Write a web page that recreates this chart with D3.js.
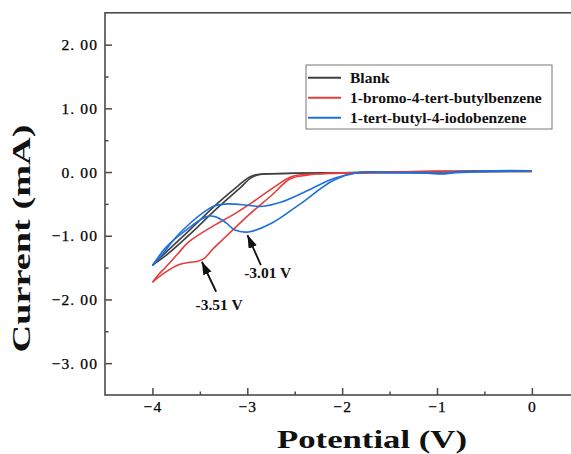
<!DOCTYPE html>
<html>
<head>
<meta charset="utf-8">
<script src="https://cdn.jsdelivr.net/npm/d3@7"></script>
<style>
  body { margin: 0; background: #fff; }
  svg { display: block; font-family: "Liberation Serif", "Times New Roman", serif; }
</style>
</head>
<body>
<svg id="chart" width="571" height="454"></svg>
<script>
// ticks
const potentialTicks = [-4, -3, -2, -1, 0];
const potentialMinor = [-3.5, -2.5, -1.5, -0.5];
const currentTicks = [2, 1, 0, -1, -2, -3];
const currentMinor = [1.5, 0.5, -0.5, -1.5, -2.5];

// CV curves, [potential V, current mA]
const blankForward = [[0, 0.02], [-0.5, 0.02], [-1, 0.01], [-1.5, 0.0], [-2, -0.01], [-2.5, -0.02], [-2.8, -0.03], [-2.9, -0.05], [-2.97, -0.1], [-3.07, -0.24], [-3.32, -0.57], [-3.6, -0.97], [-3.85, -1.3], [-4, -1.46]];
const blankReverse = [[-4, -1.46], [-3.85, -1.25], [-3.6, -0.9], [-3.32, -0.5], [-3.1, -0.22], [-3.0, -0.1], [-2.93, -0.05], [-2.85, -0.03], [-2.5, -0.02], [-2, -0.01], [-1, 0.0], [0, 0.01]];

const bromoForward = [[0, 0.02], [-0.5, 0.02], [-1, 0.01], [-1.5, 0.0], [-1.9, -0.01], [-2.16, -0.02], [-2.37, -0.05], [-2.55, -0.11], [-2.74, -0.36], [-2.99, -0.68], [-3.23, -1.02], [-3.37, -1.22], [-3.45, -1.35], [-3.52, -1.4], [-3.62, -1.42], [-3.73, -1.46], [-3.87, -1.58], [-4, -1.73]];
const bromoReverse = [[-4, -1.73], [-3.93, -1.6], [-3.87, -1.51], [-3.73, -1.28], [-3.62, -1.1], [-3.34, -0.83], [-3.16, -0.68], [-2.99, -0.52], [-2.74, -0.26], [-2.53, -0.07], [-2.3, -0.03], [-2, -0.02], [-1.5, -0.01], [-1, 0.0], [-0.5, 0.01], [0, 0.01]];

const iodoForward = [[0, 0.02], [-0.4, 0.01], [-0.8, -0.01], [-0.95, -0.03], [-1.1, -0.02], [-1.4, -0.01], [-1.84, -0.01], [-2.09, -0.13], [-2.46, -0.52], [-2.74, -0.8], [-2.99, -0.94], [-3.13, -0.91], [-3.23, -0.79], [-3.34, -0.7], [-3.43, -0.7], [-3.6, -0.86], [-3.85, -1.17], [-4, -1.47]];
const iodoReverse = [[-4, -1.47], [-3.9, -1.3], [-3.75, -1.02], [-3.6, -0.8], [-3.45, -0.62], [-3.34, -0.53], [-3.2, -0.5], [-3.0, -0.52], [-2.86, -0.54], [-2.64, -0.47], [-2.39, -0.31], [-2.09, -0.1], [-1.84, -0.01], [-1.5, -0.01], [-1.1, -0.01], [-0.95, -0.02], [-0.8, 0.0], [-0.4, 0.02], [0, 0.02]];

const seriesNames = ["Blank", "1-bromo-4-tert-butylbenzene", "1-tert-butyl-4-iodobenzene"];
const seriesColors = ["#3f3f3f", "#e63c3c", "#1f6fdb"];
const seriesData = [[blankForward, blankReverse], [bromoForward, bromoReverse], [iodoForward, iodoReverse]];

// peak annotations: label text, arrow tip, arrow tail, label anchor (data units)
const peakTexts = ["-3.51 V", "-3.01 V"];
const peakTips = [[-3.479, -1.408], [-2.998, -0.99]];
const peakTails = [[-3.328, -1.879], [-2.857, -1.46]];
const peakLabelPos = [[-3.297, -2.166], [-2.785, -1.664]];

const svg = d3.select("#chart");

const x = d3.scaleLinear().domain([-4.5, 0.5]).range([105, 579.3]);
const y = d3.scaleLinear().domain([-3.5, 2.5]).range([395, 12.8]);

const frameColor = "#4a4a4a";

// minus sign + spaced decimals like the original
const fmtY = d => d3.format(".2f")(d).replace(".", ". ");
const fmtX = d => d3.format("d")(d);

// axes
const gx = svg.append("g").attr("transform", "translate(0,395)");
gx.call(d3.axisBottom(x).tickValues(potentialTicks).tickSize(-7).tickPadding(6).tickFormat(fmtX));
const gxm = svg.append("g").attr("transform", "translate(0,395)");
gxm.call(d3.axisBottom(x).tickValues(potentialMinor).tickSize(-3.5).tickFormat(""));

const gy = svg.append("g").attr("transform", "translate(105,0)");
gy.call(d3.axisLeft(y).tickValues(currentTicks).tickSize(-7).tickPadding(7).tickFormat(fmtY));
const gym = svg.append("g").attr("transform", "translate(105,0)");
gym.call(d3.axisLeft(y).tickValues(currentMinor).tickSize(-3.5).tickFormat(""));

svg.selectAll(".domain").remove();
svg.selectAll("g").attr("font-family", null);
svg.selectAll(".tick line").attr("stroke", frameColor).attr("stroke-width", 1.5);
svg.selectAll(".tick text")
  .attr("fill", "#000")
  .attr("font-family", "Liberation Serif, serif")
  .style("font-size", "15.5px")
  .style("letter-spacing", "1.1px")
  .style("stroke", "#000")
  .style("stroke-width", 0.25);

// frame
svg.append("rect")
  .attr("x", x.range()[0]).attr("y", y.range()[1])
  .attr("width", x.range()[1] - x.range()[0])
  .attr("height", y.range()[0] - y.range()[1])
  .attr("fill", "none")
  .attr("stroke", frameColor)
  .attr("stroke-width", 1.6);

// curves
const line = d3.line()
  .x(d => x(d[0]))
  .y(d => y(d[1]))
  .curve(d3.curveCatmullRom.alpha(0.5));

seriesData.forEach((branches, i) => {
  branches.forEach(b => {
    svg.append("path")
      .datum(b)
      .attr("d", line)
      .attr("fill", "none")
      .attr("stroke", seriesColors[i])
      .attr("stroke-width", 1.6)
      .attr("stroke-linejoin", "round");
  });
});

// arrows
svg.append("defs").append("marker")
  .attr("id", "arrow")
  .attr("markerUnits", "userSpaceOnUse")
  .attr("markerWidth", 14).attr("markerHeight", 10)
  .attr("refX", 13).attr("refY", 4.5)
  .attr("orient", "auto")
  .append("path")
  .attr("d", "M0,0 L13,4.5 L0,9 Z")
  .attr("fill", "#111");

peakTexts.forEach((t, i) => {
  svg.append("line")
    .attr("x1", x(peakTails[i][0])).attr("y1", y(peakTails[i][1]))
    .attr("x2", x(peakTips[i][0])).attr("y2", y(peakTips[i][1]))
    .attr("stroke", "#111")
    .attr("stroke-width", 1.8)
    .attr("marker-end", "url(#arrow)");

  svg.append("text")
    .attr("x", x(peakLabelPos[i][0]))
    .attr("y", y(peakLabelPos[i][1]))
    .attr("text-anchor", "middle")
    .attr("font-weight", "bold")
    .attr("font-size", "15.5px")
    .attr("fill", "#111")
    .text(t);
});

// legend
const legend = svg.append("g");
legend.append("rect")
  .attr("x", 306).attr("y", 65).attr("width", 246).attr("height", 64)
  .attr("fill", "#fff")
  .attr("stroke", "#777")
  .attr("stroke-width", 1);

seriesNames.forEach((name, i) => {
  const ly = 77.7 + i * 20;
  legend.append("line")
    .attr("x1", 308).attr("x2", 341)
    .attr("y1", ly).attr("y2", ly)
    .attr("stroke", seriesColors[i])
    .attr("stroke-width", 2);
  legend.append("text")
    .attr("x", 350).attr("y", ly + 5)
    .attr("font-weight", "bold")
    .attr("font-size", "15.5px")
    .attr("fill", "#111")
    .text(name);
});

// axis titles
svg.append("text")
  .attr("x", 372).attr("y", 448)
  .attr("text-anchor", "middle")
  .attr("font-weight", "bold")
  .attr("font-size", "26px")
  .attr("textLength", 190)
  .attr("lengthAdjust", "spacingAndGlyphs")
  .attr("fill", "#111")
  .text("Potential (V)");

svg.append("text")
  .attr("transform", "translate(30,238.5) rotate(-90)")
  .attr("text-anchor", "middle")
  .attr("font-weight", "bold")
  .attr("font-size", "26px")
  .attr("textLength", 228)
  .attr("lengthAdjust", "spacingAndGlyphs")
  .attr("fill", "#111")
  .text("Current (mA)");
</script>
</body>
</html>
